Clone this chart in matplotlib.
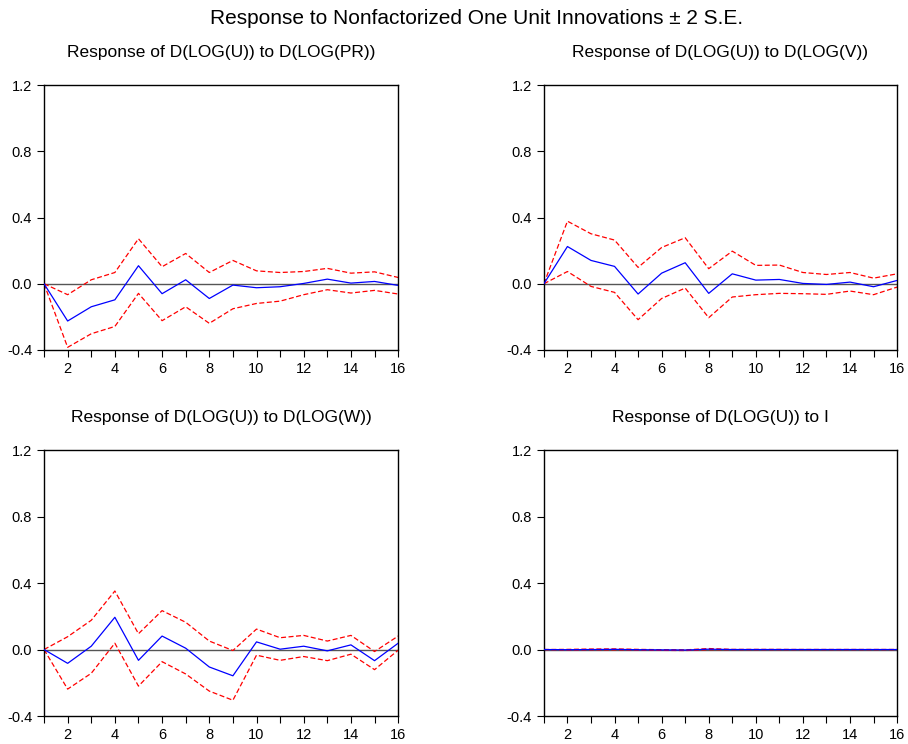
import matplotlib
matplotlib.use("Agg")
import matplotlib.pyplot as plt
from matplotlib.ticker import MultipleLocator

plt.rcParams['font.family'] = ['Liberation Sans', 'DejaVu Sans']

periods = list(range(1, 17))

# response of D(LOG(U)) to D(LOG(PR))
pr_resp = [0, -0.225, -0.139, -0.097, 0.109, -0.060, 0.024, -0.089, -0.008, -0.024, -0.018, 0.002, 0.028, 0.004, 0.014, -0.010]
pr_upper = [0, -0.066, 0.024, 0.068, 0.272, 0.103, 0.183, 0.068, 0.141, 0.078, 0.068, 0.074, 0.093, 0.064, 0.072, 0.038]
pr_lower = [0, -0.384, -0.302, -0.258, -0.058, -0.223, -0.139, -0.239, -0.151, -0.119, -0.105, -0.066, -0.036, -0.056, -0.040, -0.062]

# response of D(LOG(U)) to D(LOG(V))
v_resp = [0, 0.225, 0.141, 0.105, -0.062, 0.064, 0.127, -0.058, 0.060, 0.022, 0.026, 0.002, -0.004, 0.010, -0.018, 0.020]
v_upper = [0, 0.378, 0.302, 0.264, 0.099, 0.219, 0.278, 0.091, 0.197, 0.111, 0.113, 0.068, 0.056, 0.068, 0.034, 0.060]
v_lower = [0, 0.074, -0.016, -0.052, -0.217, -0.089, -0.026, -0.205, -0.080, -0.066, -0.058, -0.060, -0.064, -0.044, -0.066, -0.020]

# response of D(LOG(U)) to D(LOG(W))
w_resp = [0, -0.083, 0.020, 0.194, -0.065, 0.081, 0.008, -0.105, -0.158, 0.046, 0.002, 0.020, -0.008, 0.028, -0.067, 0.038]
w_upper = [0, 0.077, 0.176, 0.352, 0.095, 0.234, 0.164, 0.051, -0.006, 0.123, 0.071, 0.085, 0.051, 0.085, -0.012, 0.081]
w_lower = [0, -0.238, -0.143, 0.038, -0.220, -0.073, -0.147, -0.250, -0.305, -0.034, -0.065, -0.042, -0.067, -0.028, -0.121, -0.004]

# response of D(LOG(U)) to I
i_resp = [0, -0.001, 0.000, 0.001, -0.001, -0.002, -0.003, 0.002, 0.000, 0.000, 0.000, 0.000, 0.000, 0.000, 0.000, 0.000]
i_upper = [0, 0.001, 0.003, 0.004, 0.001, -0.001, -0.002, 0.006, 0.001, 0.001, 0.001, 0.000, 0.000, 0.000, 0.000, 0.000]
i_lower = [0, -0.003, -0.002, -0.002, -0.003, -0.005, -0.006, -0.001, -0.001, -0.001, -0.001, 0.000, 0.000, 0.000, 0.000, 0.000]

panels = [
    ("Response of D(LOG(U)) to D(LOG(PR))", pr_resp, pr_upper, pr_lower),
    ("Response of D(LOG(U)) to D(LOG(V))", v_resp, v_upper, v_lower),
    ("Response of D(LOG(U)) to D(LOG(W))", w_resp, w_upper, w_lower),
    ("Response of D(LOG(U)) to I", i_resp, i_upper, i_lower),
]

fig = plt.figure(figsize=(9.08, 7.44), dpi=100)
fig.suptitle("Response to Nonfactorized One Unit Innovations \u00b1 2 S.E.", fontsize=15, x=0.525, y=0.988)

positions = [
    [0.0485, 0.5296, 0.390, 0.356],
    [0.599, 0.5296, 0.389, 0.356],
    [0.0485, 0.0376, 0.390, 0.3575],
    [0.599, 0.0376, 0.389, 0.3575],
]

for pos, (title, resp, upper, lower) in zip(positions, panels):
    ax = fig.add_axes(pos)
    ax.axhline(0, color='#555555', lw=1.0, zorder=1)
    ax.plot(periods, resp, color='blue', lw=0.9, zorder=3)
    ax.plot(periods, upper, color='red', lw=0.9, ls=(0, (4, 2)), zorder=2)
    ax.plot(periods, lower, color='red', lw=0.9, ls=(0, (4, 2)), zorder=2)
    ax.set_xlim(1, 16)
    ax.set_ylim(-0.4, 1.2)
    ax.set_yticks([-0.4, 0.0, 0.4, 0.8, 1.2])
    ax.set_yticklabels(["-0.4", "0.0", "0.4", "0.8", "1.2"])
    ax.set_xticks(range(2, 17, 2))
    ax.xaxis.set_minor_locator(MultipleLocator(1))
    ax.tick_params(axis='both', which='major', labelsize=10.5, direction='out', length=5, width=0.8)
    ax.tick_params(axis='x', which='minor', direction='out', length=5, width=0.8)
    ax.set_title(title, fontsize=12.5, pad=20)
    for s in ax.spines.values():
        s.set_linewidth(1.0)

plt.savefig("out.png", dpi=100)
